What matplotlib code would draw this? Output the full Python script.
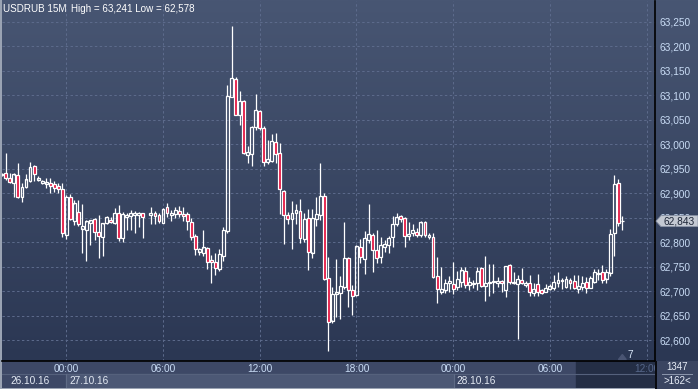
import numpy as np
import matplotlib

matplotlib.use("Agg")
import matplotlib.pyplot as plt
from matplotlib.patches import Rectangle, Polygon
from matplotlib.transforms import blended_transform_factory

# 15M candles, USDRUB, 26.10.16 20:00 -> 28.10.16 10:30 (one bar missing at 05:00)
opens = [62937, 62941, 62930, 62921, 62937, 62893, 62913, 62925, 62955, 62927,
         62921, 62920, 62921, 62918, 62914, 62909, 62814, 62891, 62844, 62861,
         62828, 62825, 62840, 62847, 62820, 62811, 62840, 62846, 62840, 62859,
         62808, 62852, 62854, 62855, 62855, 62859, np.nan, 62855, 62859, 62856,
         62840, 62871, 62855, 62857, 62864, 62857, 62857, 62841, 62813, 62781,
         62778, 62788, 62763, 62759, 62745, 62772, 62823, 63097, 63133, 63060,
         63088, 62979, 62981, 63035, 63068, 63033, 62964, 62966, 63005, 62981,
         62905, 62855, 62848, 62860, 62863, 62806, 62849, 62779, 62847, 62855,
         62894, 62726, 62640, 62694, 62697, 62708, 62768, 62702, 62692, 62789,
         62766, 62805, 62814, 62784, 62769, 62791, 62794, 62810, 62838, 62854,
         62849, 62813, 62818, 62820, 62815, 62841, 62811, 62810, 62730, 62699,
         62702, 62716, 62714, 62709, 62719, 62740, 62713, 62714, 62716, 62746,
         62711, 62717, 62719, 62716, 62720, 62702, 62753, 62719, 62714, 62723,
         62713, 62716, 62697, 62714, 62702, 62699, 62705, 62707, 62717, 62721,
         62709, 62723, 62721, 62704, 62709, 62718, 62707, 62719, 62736, 62738,
         62726, 62738, 62818, 62920, 62843]
highs = [62942, 62983, 62941, 62942, 62961, 62921, 62939, 62963, 62957, 62935,
         62928, 62932, 62932, 62925, 62921, 62921, 62896, 62898, 62886, 62887,
         62879, 62845, 62845, 62849, 62855, 62840, 62854, 62851, 62869, 62876,
         62862, 62860, 62866, 62864, 62862, 62860, np.nan, 62871, 62864, 62859,
         62869, 62881, 62866, 62871, 62874, 62871, 62862, 62849, 62817, 62789,
         62825, 62791, 62774, 62777, 62785, 62830, 63121, 63241, 63137, 63108,
         63090, 62996, 63037, 63103, 63071, 63037, 63009, 63021, 63024, 63002,
         62907, 62862, 62884, 62879, 62889, 62859, 62867, 62867, 62892, 62961,
         62901, 62770, 62709, 62766, 62730, 62841, 62770, 62713, 62794, 62806,
         62822, 62878, 62818, 62825, 62811, 62804, 62813, 62854, 62859, 62856,
         62852, 62842, 62837, 62828, 62843, 62844, 62818, 62819, 62770, 62750,
         62724, 62730, 62760, 62742, 62749, 62750, 62728, 62723, 62750, 62750,
         62772, 62755, 62755, 62728, 62723, 62751, 62755, 62740, 62733, 62748,
         62721, 62733, 62716, 62735, 62704, 62714, 62714, 62733, 62739, 62726,
         62730, 62726, 62733, 62733, 62730, 62728, 62731, 62746, 62746, 62753,
         62746, 62826, 62937, 62929, 62853]
lows = [62935, 62928, 62921, 62893, 62891, 62883, 62910, 62922, 62925, 62925,
        62919, 62910, 62901, 62902, 62900, 62810, 62806, 62845, 62835, 62834,
        62778, 62762, 62794, 62804, 62767, 62772, 62837, 62840, 62837, 62802,
        62801, 62825, 62825, 62819, 62830, 62809, np.nan, 62838, 62838, 62840,
        62840, 62851, 62844, 62849, 62852, 62844, 62825, 62804, 62774, 62774,
        62772, 62745, 62717, 62733, 62742, 62762, 62819, 63097, 63059, 63039,
        62981, 62962, 62956, 63029, 63029, 62956, 62960, 62964, 62962, 62858,
        62796, 62837, 62787, 62838, 62799, 62801, 62744, 62767, 62833, 62845,
        62722, 62578, 62634, 62648, 62642, 62704, 62667, 62651, 62690, 62757,
        62735, 62799, 62740, 62758, 62757, 62779, 62777, 62790, 62833, 62842,
        62791, 62804, 62813, 62810, 62810, 62811, 62806, 62726, 62676, 62695,
        62697, 62699, 62694, 62702, 62708, 62706, 62702, 62706, 62702, 62708,
        62680, 62689, 62696, 62709, 62699, 62687, 62714, 62714, 62602, 62714,
        62709, 62689, 62689, 62689, 62695, 62699, 62702, 62702, 62709, 62704,
        62706, 62705, 62704, 62697, 62702, 62697, 62706, 62717, 62723, 62717,
        62717, 62730, 62772, 62834, 62825]
closes = [62940, 62932, 62923, 62938, 62893, 62912, 62928, 62953, 62940, 62930,
          62925, 62923, 62916, 62912, 62909, 62818, 62893, 62847, 62879, 62838,
          62833, 62842, 62844, 62821, 62813, 62838, 62851, 62841, 62859, 62808,
          62857, 62855, 62859, 62859, 62859, 62851, np.nan, 62859, 62854, 62843,
          62867, 62859, 62859, 62866, 62857, 62854, 62844, 62811, 62787, 62785,
          62789, 62760, 62760, 62748, 62775, 62825, 63099, 63135, 63061, 63088,
          62983, 62984, 63035, 63070, 63033, 62964, 62969, 63007, 62980, 62908,
          62855, 62847, 62860, 62866, 62808, 62847, 62781, 62849, 62857, 62894,
          62726, 62638, 62694, 62697, 62710, 62767, 62702, 62691, 62791, 62769,
          62808, 62817, 62785, 62768, 62794, 62796, 62808, 62837, 62851, 62847,
          62813, 62817, 62824, 62814, 62840, 62814, 62814, 62730, 62704, 62704,
          62716, 62720, 62704, 62724, 62742, 62713, 62718, 62716, 62740, 62710,
          62717, 62719, 62720, 62721, 62716, 62751, 62719, 62716, 62725, 62716,
          62716, 62699, 62704, 62699, 62697, 62707, 62710, 62719, 62723, 62722,
          62725, 62717, 62706, 62710, 62716, 62706, 62726, 62739, 62737, 62723,
          62738, 62817, 62919, 62840, 62843]

time_ticks = [16, 40, 64, 88, 112, 136, 160]
time_labels = ["00:00", "06:00", "12:00", "18:00", "00:00", "06:00", "12:00"]
day_starts = [0, 16, 112]
day_labels = ["26.10.16", "27.10.16", "28.10.16"]
price_ticks = list(range(62600, 63251, 50))

W, H = 698, 389
RED = "#e3123e"
GRID = "#5d6b8c"
TICK_BLUE = "#c9dcf5"
FS = 7.3

plt.rcParams["font.family"] = ["Liberation Sans", "DejaVu Sans"]

fig = plt.figure(figsize=(W / 100, H / 100), dpi=100)
fig.patch.set_facecolor("#9aa3b3")


def px_rect(x0, y0, x1, y1):
    # figure-fraction rect from pixel box (top-left origin)
    return [x0 / W, 1 - y1 / H, (x1 - x0) / W, (y1 - y0) / H]


# gradient background behind plot + right scale
bg = fig.add_axes(px_rect(2, 0, 698, 361), zorder=-2)
grad = np.linspace(0, 1, 256).reshape(-1, 1)
top_c = np.array([0x48, 0x56, 0x73]) / 255
bot_c = np.array([0x2b, 0x37, 0x53]) / 255
img = top_c + (bot_c - top_c) * grad
bg.imshow(img[:, None, :].repeat(2, axis=1), aspect="auto", extent=[0, 1, 0, 1])
bg.set_axis_off()

# bottom time strip
strip = fig.add_axes(px_rect(2, 361, 698, 388), zorder=-1)
strip.set_xlim(2, 698)
strip.set_ylim(388, 361)
strip.set_axis_off()
strip.add_patch(Rectangle((2, 361), 696, 27, color="#3d4866"))
strip.add_patch(Rectangle((66, 374), 388, 14, color="#4c5875"))
strip.add_patch(Rectangle((576, 361), 79, 27, color="#242e45"))
strip.plot([2, 655], [374, 374], color="#55617c", lw=0.8)
strip.plot([66, 66], [374, 388], color="#5f6b86", lw=0.8)
strip.plot([454, 454], [374, 388], color="#5f6b86", lw=0.8)

ax = fig.add_axes(px_rect(2, 1, 655, 361))
ax.set_facecolor("none")
ax.set_xlim(0.045, 162.08)
ax.set_ylim(62557.1, 63292.9)

for s in ("top", "left"):
    ax.spines[s].set_visible(False)
ax.spines["right"].set_color("black")
ax.spines["bottom"].set_color("black")
ax.spines["right"].set_linewidth(1.2)
ax.spines["bottom"].set_linewidth(1.2)

for t in time_ticks:
    ax.axvline(t, color=GRID, lw=0.7, ls=(0, (2.5, 2.5)), zorder=1)
for p in price_ticks:
    ax.axhline(p, color=GRID, lw=0.7, ls=(0, (2.5, 2.5)), zorder=1)

o = np.array(opens, float)
h = np.array(highs, float)
l = np.array(lows, float)
c = np.array(closes, float)
x = np.arange(len(o))
ok = ~np.isnan(o)
x, o, h, l, c = x[ok], o[ok], h[ok], l[ok], c[ok]
top = np.maximum(o, c)
bot = np.minimum(o, c)
up = c >= o

ax.vlines(x, top, h, color="white", lw=0.9, zorder=3)
ax.vlines(x, l, bot, color="white", lw=0.9, zorder=3)
ax.bar(x[up], (top - bot)[up] + 0.6, bottom=bot[up] - 0.3, width=0.72,
       facecolor="none", edgecolor="white", linewidth=0.9, zorder=4)
ax.bar(x[~up], (top - bot)[~up] + 0.6, bottom=bot[~up] - 0.3, width=0.72,
       facecolor=RED, edgecolor="white", linewidth=0.9, zorder=4)

ax.yaxis.tick_right()
ax.set_yticks(price_ticks)
ax.set_yticklabels([f"{p:,}" for p in price_ticks])
ax.tick_params(axis="y", length=0, pad=3, labelsize=FS, labelcolor=TICK_BLUE)
ax.set_xticks(time_ticks)
ax.set_xticklabels(time_labels)
ax.tick_params(axis="x", length=0, pad=2, labelsize=FS, labelcolor=TICK_BLUE)
ax.get_xticklabels()[-1].set_color("#56678a")

tr = blended_transform_factory(ax.transData, ax.transAxes)
for d, lab in zip(day_starts, day_labels):
    xs = d + 0.9 if d else 2.2
    ax.text(xs, -0.055, lab, transform=tr, ha="left", va="center",
            fontsize=FS, color="#e4eaf4", clip_on=False)

ax.text(1 / 653, 0.978, "USDRUB 15M", transform=ax.transAxes, ha="left", va="center",
        fontsize=7.1, color="white")
ax.text(69 / 653, 0.978, "High = 63,241 Low = 62,578", transform=ax.transAxes,
        ha="left", va="center", fontsize=7.1, color="white")

# current price tag
last = closes[-1]
ytag = ax.transData.transform((0, last))[1]
tag = fig.add_axes([655 / W, (ytag - 6.5) / H, 43 / W, 13 / H], zorder=5)
tag.set_xlim(0, 43)
tag.set_ylim(0, 13)
tag.set_axis_off()
tag.add_patch(Polygon([[1, 6.5], [6, 12], [43, 12], [43, 1], [6, 1]],
                      closed=True, facecolor="#c4c9d3", edgecolor="#8a93a6", lw=0.6))
tag.text(24, 6.3, f"{last:,}", ha="center", va="center", fontsize=FS, color="#1c2436")

# bar count marker
ax.text(0.963, 0.004, "7", transform=ax.transAxes, ha="center", va="bottom",
        fontsize=FS, color="#d8e6f8")
ax.add_patch(Polygon([[0.944, 0.004], [0.950, 0.018], [0.956, 0.004]],
                     closed=True, transform=ax.transAxes, color="#4a5573"))

# bottom-right info box
box = fig.add_axes(px_rect(655, 361, 698, 389), zorder=6)
box.set_xlim(0, 43)
box.set_ylim(28, 0)
box.set_facecolor("#3a4561")
for s in box.spines.values():
    s.set_visible(False)
box.set_xticks([])
box.set_yticks([])
box.plot([0.5, 0.5], [0, 28], color="black", lw=1.2)
box.plot([7, 37], [13, 13], color="#8c97ad", lw=0.7)
box.text(22, 6.5, "1347", ha="center", va="center", fontsize=7, color="#e8eef8")
box.text(22, 20, ">162<", ha="center", va="center", fontsize=7, color="#e8eef8")

fig.savefig("out.png", dpi=100, facecolor=fig.get_facecolor())
